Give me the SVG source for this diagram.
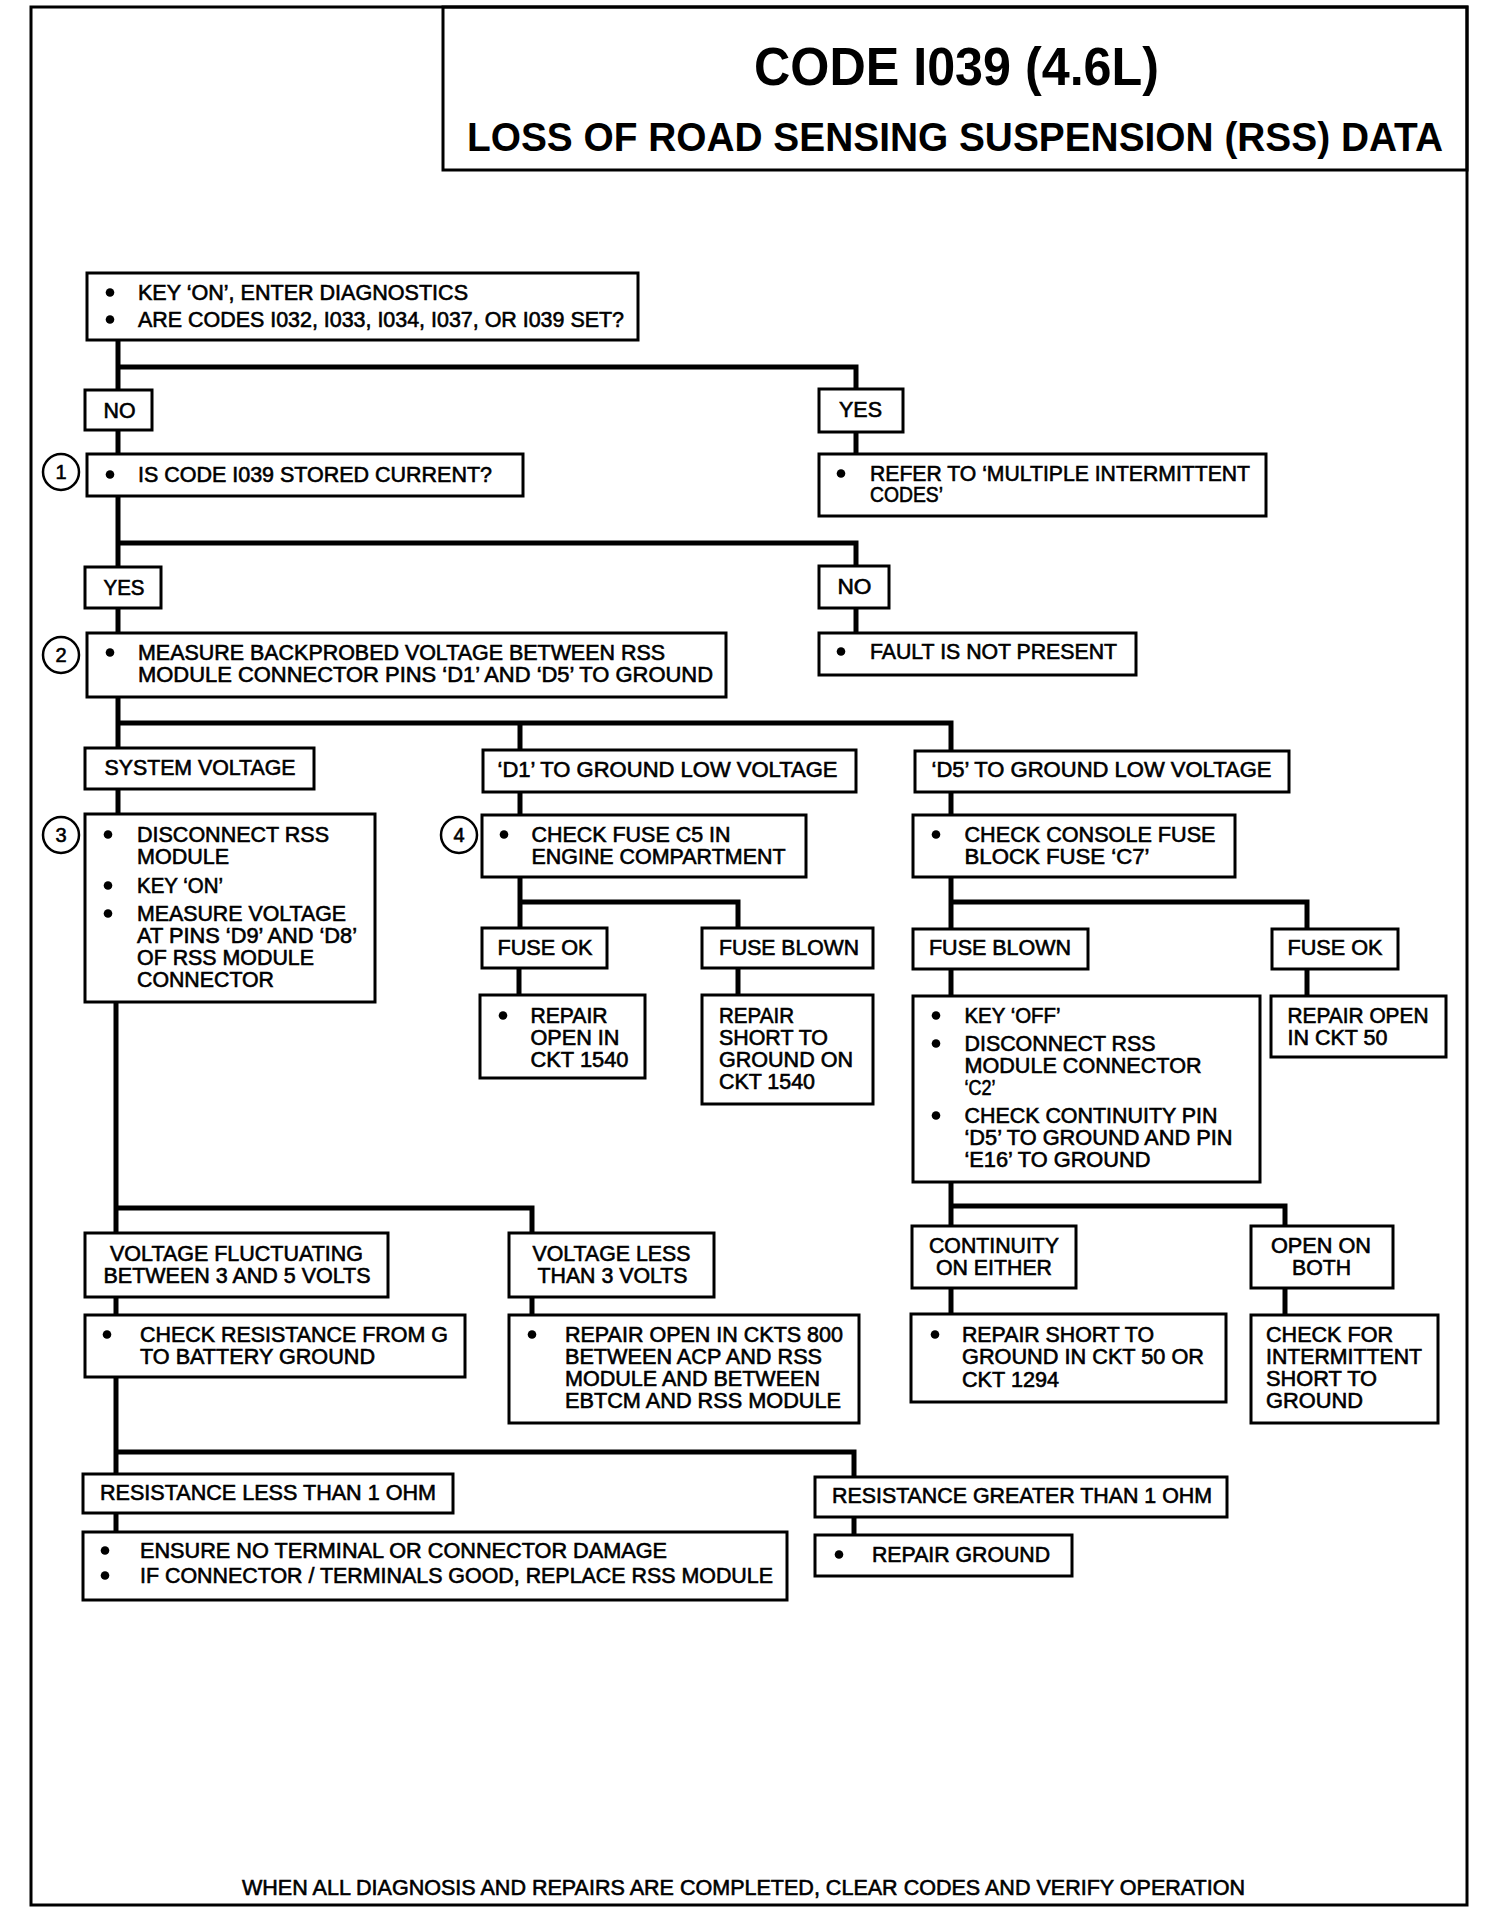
<svg xmlns="http://www.w3.org/2000/svg" width="1488" height="1918" viewBox="0 0 1488 1918">
<style>
.frame{fill:none;stroke:#000;stroke-width:3}
.box{fill:#fff;stroke:#000;stroke-width:3}
.t{font-family:"Liberation Sans",Arial,sans-serif;font-size:21.5px;fill:#000;stroke:#000;stroke-width:0.6}
.h{font-family:"Liberation Sans",Arial,sans-serif;font-weight:bold;fill:#000}
.num{font-family:"Liberation Sans",Arial,sans-serif;font-size:20px;fill:#000;stroke:#000;stroke-width:0.6;text-anchor:middle}
.ring{fill:#fff;stroke:#000;stroke-width:2.5}
.c{fill:none;stroke:#000;stroke-width:5;stroke-linejoin:miter}
.b{fill:#000}
</style>
<rect class="frame" x="31" y="7" width="1436" height="1898"/>
<g id="title">
<rect class="frame" x="443" y="7" width="1024" height="163"/>
<text class="h" x="754" y="85" font-size="53" textLength="405" lengthAdjust="spacingAndGlyphs">CODE I039 (4.6L)</text>
<text class="h" x="467" y="151" font-size="40" textLength="976" lengthAdjust="spacingAndGlyphs">LOSS OF ROAD SENSING SUSPENSION (RSS) DATA</text>
</g>
<g id="connectors">
<polyline class="c" points="118,340 118,390"/>
<polyline class="c" points="118,367 856,367 856,389"/>
<polyline class="c" points="118,430 118,454"/>
<polyline class="c" points="856,432 856,454"/>
<polyline class="c" points="118,496 118,567"/>
<polyline class="c" points="118,543 856,543 856,566"/>
<polyline class="c" points="118,608 118,633"/>
<polyline class="c" points="856,608 856,633"/>
<polyline class="c" points="118,697 118,748"/>
<polyline class="c" points="118,723 951,723 951,751"/>
<polyline class="c" points="520,723 520,750"/>
<polyline class="c" points="118,789 118,814"/>
<polyline class="c" points="520,792 520,815"/>
<polyline class="c" points="951,792 951,815"/>
<polyline class="c" points="520,877 520,928"/>
<polyline class="c" points="520,902 738,902 738,928"/>
<polyline class="c" points="519,968 519,995"/>
<polyline class="c" points="738,968 738,995"/>
<polyline class="c" points="951,877 951,929"/>
<polyline class="c" points="951,902 1307,902 1307,929"/>
<polyline class="c" points="951,969 951,996"/>
<polyline class="c" points="1307,969 1307,996"/>
<polyline class="c" points="951,1182 951,1226"/>
<polyline class="c" points="951,1206 1285,1206 1285,1226"/>
<polyline class="c" points="951,1288 951,1314"/>
<polyline class="c" points="1285,1288 1285,1315"/>
<polyline class="c" points="116,1002 116,1233"/>
<polyline class="c" points="116,1208 532,1208 532,1233"/>
<polyline class="c" points="116,1297 116,1315"/>
<polyline class="c" points="532,1297 532,1315"/>
<polyline class="c" points="116,1377 116,1474"/>
<polyline class="c" points="116,1452 854,1452 854,1477"/>
<polyline class="c" points="116,1513 116,1532"/>
<polyline class="c" points="854,1517 854,1535"/>
</g>
<g id="n1">
<rect class="box" x="87" y="273" width="551" height="67"/>
<circle class="b" cx="110" cy="292.5" r="4.3"/><circle class="b" cx="110" cy="319.5" r="4.3"/>
<text class="t" x="138" y="300" textLength="330" lengthAdjust="spacingAndGlyphs">KEY ‘ON’, ENTER DIAGNOSTICS</text>
<text class="t" x="138" y="327" textLength="486" lengthAdjust="spacingAndGlyphs">ARE CODES I032, I033, I034, I037, OR I039 SET?</text>
</g>
<g id="no1"><rect class="box" x="85" y="390" width="67" height="40"/>
<text class="t" x="103.5" y="418" textLength="32" lengthAdjust="spacingAndGlyphs">NO</text></g>
<g id="yes1"><rect class="box" x="819" y="389" width="84" height="43"/>
<text class="t" x="839" y="417" textLength="43" lengthAdjust="spacingAndGlyphs">YES</text></g>
<g id="q1">
<circle class="ring" cx="61" cy="472" r="18"/><text class="num" x="61" y="479">1</text>
<rect class="box" x="87" y="454" width="436" height="42"/>
<circle class="b" cx="110" cy="474.5" r="4.3"/>
<text class="t" x="138" y="482" textLength="354" lengthAdjust="spacingAndGlyphs">IS CODE I039 STORED CURRENT?</text>
</g>
<g id="refer">
<rect class="box" x="819" y="454" width="447" height="62"/>
<circle class="b" cx="841" cy="473.5" r="4.3"/>
<text class="t" x="870" y="481" textLength="380" lengthAdjust="spacingAndGlyphs">REFER TO ‘MULTIPLE INTERMITTENT</text>
<text class="t" x="870" y="502" textLength="73" lengthAdjust="spacingAndGlyphs">CODES’</text>
</g>
<g id="yes2"><rect class="box" x="85" y="567" width="76" height="41"/>
<text class="t" x="103.5" y="595" textLength="41" lengthAdjust="spacingAndGlyphs">YES</text></g>
<g id="no2"><rect class="box" x="819" y="566" width="70" height="42"/>
<text class="t" x="837.5" y="594" textLength="34" lengthAdjust="spacingAndGlyphs">NO</text></g>
<g id="n2">
<circle class="ring" cx="61" cy="655" r="18"/><text class="num" x="61" y="662">2</text>
<rect class="box" x="87" y="633" width="639" height="64"/>
<circle class="b" cx="110" cy="652.5" r="4.3"/>
<text class="t" x="138" y="660" textLength="527" lengthAdjust="spacingAndGlyphs">MEASURE BACKPROBED VOLTAGE BETWEEN RSS</text>
<text class="t" x="138" y="682" textLength="575" lengthAdjust="spacingAndGlyphs">MODULE CONNECTOR PINS ‘D1’ AND ‘D5’ TO GROUND</text>
</g>
<g id="fault">
<rect class="box" x="819" y="633" width="317" height="42"/>
<circle class="b" cx="841" cy="651.5" r="4.3"/>
<text class="t" x="870" y="659" textLength="247" lengthAdjust="spacingAndGlyphs">FAULT IS NOT PRESENT</text>
</g>
<g id="sysv"><rect class="box" x="85" y="748" width="229" height="41"/>
<text class="t" x="104.5" y="775" textLength="191" lengthAdjust="spacingAndGlyphs">SYSTEM VOLTAGE</text></g>
<g id="d1"><rect class="box" x="483" y="750" width="373" height="42"/>
<text class="t" x="497.5" y="777" textLength="340" lengthAdjust="spacingAndGlyphs">‘D1’ TO GROUND LOW  VOLTAGE</text></g>
<g id="d5"><rect class="box" x="915" y="751" width="374" height="41"/>
<text class="t" x="931.5" y="777" textLength="340" lengthAdjust="spacingAndGlyphs">‘D5’ TO GROUND LOW  VOLTAGE</text></g>
<g id="n3">
<circle class="ring" cx="61" cy="835" r="18"/><text class="num" x="61" y="842">3</text>
<rect class="box" x="85" y="814" width="290" height="188"/>
<circle class="b" cx="108" cy="834.5" r="4.3"/><circle class="b" cx="108" cy="885.5" r="4.3"/><circle class="b" cx="108" cy="913.5" r="4.3"/>
<text class="t" x="137" y="842" textLength="192" lengthAdjust="spacingAndGlyphs">DISCONNECT RSS</text>
<text class="t" x="137" y="864" textLength="92" lengthAdjust="spacingAndGlyphs">MODULE</text>
<text class="t" x="137" y="893" textLength="86" lengthAdjust="spacingAndGlyphs">KEY ‘ON’</text>
<text class="t" x="137" y="921" textLength="209" lengthAdjust="spacingAndGlyphs">MEASURE VOLTAGE</text>
<text class="t" x="137" y="943" textLength="220" lengthAdjust="spacingAndGlyphs">AT PINS ‘D9’ AND ‘D8’</text>
<text class="t" x="137" y="965" textLength="177" lengthAdjust="spacingAndGlyphs">OF RSS MODULE</text>
<text class="t" x="137" y="987" textLength="137" lengthAdjust="spacingAndGlyphs">CONNECTOR</text>
</g>
<g id="n4">
<circle class="ring" cx="459" cy="835" r="18"/><text class="num" x="459" y="842">4</text>
<rect class="box" x="482" y="815" width="324" height="62"/>
<circle class="b" cx="504" cy="834.5" r="4.3"/>
<text class="t" x="531.5" y="842" textLength="199" lengthAdjust="spacingAndGlyphs">CHECK FUSE C5 IN</text>
<text class="t" x="531.5" y="864" textLength="254" lengthAdjust="spacingAndGlyphs">ENGINE COMPARTMENT</text>
</g>
<g id="console">
<rect class="box" x="913" y="815" width="322" height="62"/>
<circle class="b" cx="936" cy="834.5" r="4.3"/>
<text class="t" x="964.5" y="842" textLength="251" lengthAdjust="spacingAndGlyphs">CHECK CONSOLE FUSE</text>
<text class="t" x="964.5" y="864" textLength="185" lengthAdjust="spacingAndGlyphs">BLOCK FUSE ‘C7’</text>
</g>
<g id="fok1"><rect class="box" x="482" y="928" width="125" height="40"/>
<text class="t" x="497.5" y="955" textLength="95" lengthAdjust="spacingAndGlyphs">FUSE OK</text></g>
<g id="fblown1"><rect class="box" x="702" y="928" width="171" height="40"/>
<text class="t" x="719" y="955" textLength="140" lengthAdjust="spacingAndGlyphs">FUSE BLOWN</text></g>
<g id="fblown2"><rect class="box" x="913" y="929" width="175" height="40"/>
<text class="t" x="929" y="955" textLength="142" lengthAdjust="spacingAndGlyphs">FUSE BLOWN</text></g>
<g id="fok2"><rect class="box" x="1272" y="929" width="126" height="40"/>
<text class="t" x="1287.5" y="955" textLength="95" lengthAdjust="spacingAndGlyphs">FUSE OK</text></g>
<g id="repopen1540">
<rect class="box" x="480" y="995" width="165" height="83"/>
<circle class="b" cx="503" cy="1015.5" r="4.3"/>
<text class="t" x="530.5" y="1023" textLength="77" lengthAdjust="spacingAndGlyphs">REPAIR</text>
<text class="t" x="530.5" y="1045" textLength="89" lengthAdjust="spacingAndGlyphs">OPEN IN</text>
<text class="t" x="530.5" y="1067" textLength="98" lengthAdjust="spacingAndGlyphs">CKT 1540</text>
</g>
<g id="repshort1540">
<rect class="box" x="702" y="995" width="171" height="109"/>
<text class="t" x="719" y="1023" textLength="75" lengthAdjust="spacingAndGlyphs">REPAIR</text>
<text class="t" x="719" y="1045" textLength="109" lengthAdjust="spacingAndGlyphs">SHORT TO</text>
<text class="t" x="719" y="1067" textLength="134" lengthAdjust="spacingAndGlyphs">GROUND ON</text>
<text class="t" x="719" y="1089" textLength="96" lengthAdjust="spacingAndGlyphs">CKT 1540</text>
</g>
<g id="keyoff">
<rect class="box" x="913" y="996" width="347" height="186"/>
<circle class="b" cx="936" cy="1015.5" r="4.3"/><circle class="b" cx="936" cy="1043.5" r="4.3"/><circle class="b" cx="936" cy="1115.5" r="4.3"/>
<text class="t" x="964.5" y="1023" textLength="96" lengthAdjust="spacingAndGlyphs">KEY ‘OFF’</text>
<text class="t" x="964.5" y="1051" textLength="191" lengthAdjust="spacingAndGlyphs">DISCONNECT RSS</text>
<text class="t" x="964.5" y="1073" textLength="237" lengthAdjust="spacingAndGlyphs">MODULE CONNECTOR</text>
<text class="t" x="964.5" y="1095" textLength="31" lengthAdjust="spacingAndGlyphs">‘C2’</text>
<text class="t" x="964.5" y="1123" textLength="253" lengthAdjust="spacingAndGlyphs">CHECK CONTINUITY PIN</text>
<text class="t" x="964.5" y="1145" textLength="268" lengthAdjust="spacingAndGlyphs">‘D5’ TO GROUND AND PIN</text>
<text class="t" x="964.5" y="1167" textLength="186" lengthAdjust="spacingAndGlyphs">‘E16’ TO GROUND</text>
</g>
<g id="repopen50">
<rect class="box" x="1271" y="996" width="175" height="61"/>
<text class="t" x="1287.5" y="1023" textLength="141" lengthAdjust="spacingAndGlyphs">REPAIR OPEN</text>
<text class="t" x="1287.5" y="1045" textLength="100" lengthAdjust="spacingAndGlyphs">IN CKT 50</text>
</g>
<g id="vfluct">
<rect class="box" x="85" y="1233" width="303" height="64"/>
<text class="t" x="110" y="1261" textLength="253" lengthAdjust="spacingAndGlyphs">VOLTAGE FLUCTUATING</text>
<text class="t" x="103.5" y="1283" textLength="267" lengthAdjust="spacingAndGlyphs">BETWEEN 3 AND 5 VOLTS</text>
</g>
<g id="vless">
<rect class="box" x="509" y="1233" width="205" height="64"/>
<text class="t" x="532.5" y="1261" textLength="158" lengthAdjust="spacingAndGlyphs">VOLTAGE LESS</text>
<text class="t" x="537.5" y="1283" textLength="150" lengthAdjust="spacingAndGlyphs">THAN 3 VOLTS</text>
</g>
<g id="cont">
<rect class="box" x="912" y="1226" width="164" height="62"/>
<text class="t" x="929" y="1253" textLength="130" lengthAdjust="spacingAndGlyphs">CONTINUITY</text>
<text class="t" x="936" y="1275" textLength="116" lengthAdjust="spacingAndGlyphs">ON EITHER</text>
</g>
<g id="openboth">
<rect class="box" x="1251" y="1226" width="142" height="62"/>
<text class="t" x="1271" y="1253" textLength="100" lengthAdjust="spacingAndGlyphs">OPEN ON</text>
<text class="t" x="1292" y="1275" textLength="59" lengthAdjust="spacingAndGlyphs">BOTH</text>
</g>
<g id="chkres">
<rect class="box" x="85" y="1315" width="380" height="62"/>
<circle class="b" cx="107" cy="1334.5" r="4.3"/>
<text class="t" x="140" y="1342" textLength="308" lengthAdjust="spacingAndGlyphs">CHECK RESISTANCE FROM G</text>
<text class="t" x="140" y="1364" textLength="235" lengthAdjust="spacingAndGlyphs">TO BATTERY GROUND</text>
</g>
<g id="rep800">
<rect class="box" x="509" y="1315" width="350" height="108"/>
<circle class="b" cx="532" cy="1334.5" r="4.3"/>
<text class="t" x="565" y="1342" textLength="278" lengthAdjust="spacingAndGlyphs">REPAIR OPEN IN CKTS 800</text>
<text class="t" x="565" y="1364" textLength="257" lengthAdjust="spacingAndGlyphs">BETWEEN ACP AND RSS</text>
<text class="t" x="565" y="1386" textLength="255" lengthAdjust="spacingAndGlyphs">MODULE AND BETWEEN</text>
<text class="t" x="565" y="1408" textLength="276" lengthAdjust="spacingAndGlyphs">EBTCM AND RSS MODULE</text>
</g>
<g id="repshort50">
<rect class="box" x="911" y="1314" width="315" height="88"/>
<circle class="b" cx="935" cy="1334.5" r="4.3"/>
<text class="t" x="962" y="1342" textLength="192" lengthAdjust="spacingAndGlyphs">REPAIR SHORT TO</text>
<text class="t" x="962" y="1364" textLength="242" lengthAdjust="spacingAndGlyphs">GROUND IN CKT 50 OR</text>
<text class="t" x="962" y="1387" textLength="97" lengthAdjust="spacingAndGlyphs">CKT 1294</text>
</g>
<g id="chkint">
<rect class="box" x="1251" y="1315" width="187" height="108"/>
<text class="t" x="1266" y="1342" textLength="127" lengthAdjust="spacingAndGlyphs">CHECK FOR</text>
<text class="t" x="1266" y="1364" textLength="156" lengthAdjust="spacingAndGlyphs">INTERMITTENT</text>
<text class="t" x="1266" y="1386" textLength="111" lengthAdjust="spacingAndGlyphs">SHORT TO</text>
<text class="t" x="1266" y="1408" textLength="97" lengthAdjust="spacingAndGlyphs">GROUND</text>
</g>
<g id="resless"><rect class="box" x="83" y="1474" width="370" height="39"/>
<text class="t" x="100" y="1500" textLength="336" lengthAdjust="spacingAndGlyphs">RESISTANCE LESS THAN 1 OHM</text></g>
<g id="resgreater"><rect class="box" x="815" y="1477" width="412" height="40"/>
<text class="t" x="832" y="1503" textLength="380" lengthAdjust="spacingAndGlyphs">RESISTANCE GREATER THAN 1 OHM</text></g>
<g id="ensure">
<rect class="box" x="83" y="1532" width="704" height="68"/>
<circle class="b" cx="105" cy="1550.5" r="4.3"/><circle class="b" cx="105" cy="1575.5" r="4.3"/>
<text class="t" x="140" y="1558" textLength="527" lengthAdjust="spacingAndGlyphs">ENSURE NO TERMINAL OR CONNECTOR DAMAGE</text>
<text class="t" x="140" y="1583" textLength="633" lengthAdjust="spacingAndGlyphs">IF CONNECTOR / TERMINALS GOOD, REPLACE RSS MODULE</text>
</g>
<g id="repground">
<rect class="box" x="815" y="1535" width="257" height="41"/>
<circle class="b" cx="839" cy="1554.5" r="4.3"/>
<text class="t" x="872" y="1562" textLength="178" lengthAdjust="spacingAndGlyphs">REPAIR GROUND</text>
</g>
<text class="t" x="242" y="1895" font-size="22" textLength="1003" lengthAdjust="spacingAndGlyphs">WHEN ALL DIAGNOSIS AND REPAIRS ARE COMPLETED, CLEAR CODES AND VERIFY OPERATION</text>
</svg>
